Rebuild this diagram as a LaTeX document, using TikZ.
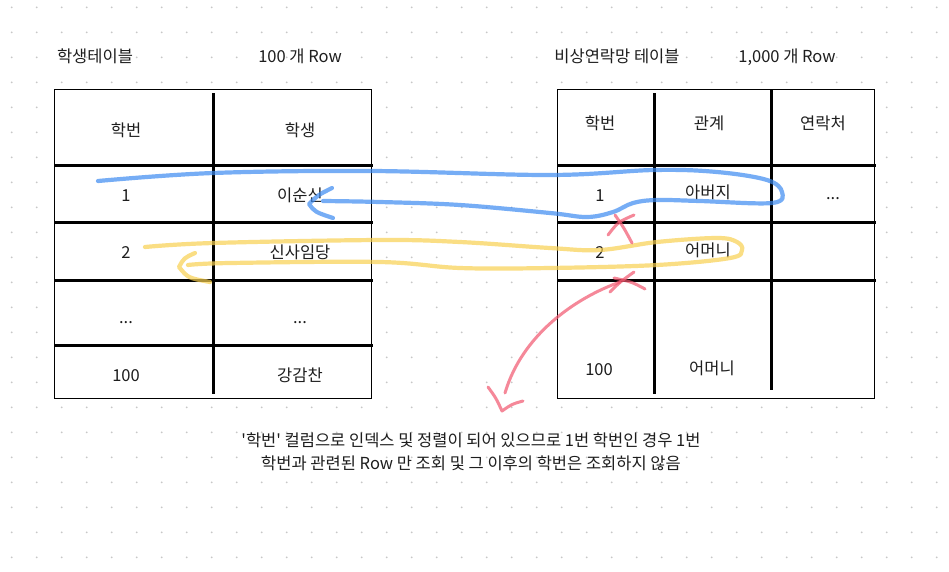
\documentclass[tikz,border=0pt]{standalone}
\usepackage{fontspec}
\setmainfont{Noto Sans CJK KR}
\usetikzlibrary{arrows.meta,positioning}
\definecolor{penblue}{HTML}{3D8BF2}
\definecolor{penyellow}{HTML}{F9D050}
\definecolor{penred}{HTML}{F2566E}
\definecolor{ink}{HTML}{1E1E1E}

\begin{document}
\begin{tikzpicture}[x=1pt,y=-1pt,
    txt/.style={font=\fontsize{16.5}{19}\selectfont,text=ink,inner sep=0pt,anchor=base},
    frame/.style={draw=black,line width=1.1pt},
    sepline/.style={draw=black,line width=3pt},
    pen/.style={line width=4.2pt,line cap=round,line join=round,opacity=0.7},
    bluepen/.style={pen,draw=penblue},
    yellowpen/.style={pen,draw=penyellow},
    redpen/.style={pen,draw=penred,line width=3pt}]
    \useasboundingbox[fill=white] (0,0) rectangle (949,571);
    % dot grid
    \foreach \i in {0,...,37}
      \foreach \j in {0,...,22}
        \fill[black!22] (11.7+25*\i,7.3+25*\j) circle (1pt);

    % titles
    \node[txt] (stuTitle) at (95,62.3) {학생테이블};
    \node[txt] (stuRows) at (300,62.3) {100 개 Row};
    \node[txt] (emgTitle) at (617,62.3) {비상연락망 테이블};
    \node[txt] (emgRows) at (787,62.3) {1,000 개 Row};

    % student table
    \draw[frame,fill=white] (54.5,89.5) rectangle (371.5,398.5);
    \foreach \y in {165,222.5,280,345}
      \draw[sepline] (54.5,\y) -- (372.5,\y);
    \draw[sepline] (213.5,93) -- (213.5,394);
    \node[txt] (sNoH) at (126,136.3) {학번};
    \node[txt] (sNameH) at (300,136.3) {학생};
    \node[txt] (sNo1) at (126,201.3) {1};
    \node[txt] (sName1) at (300,201.3) {이순신};
    \node[txt] (sNo2) at (126,258.3) {2};
    \node[txt] (sName2) at (300,258.3) {신사임당};
    \node[txt] (sNoX) at (126,323) {...};
    \node[txt] (sNameX) at (300,323) {...};
    \node[txt] (sNo100) at (126,381.3) {100};
    \node[txt] (sName100) at (300,381.3) {강감찬};

    % contact table
    \draw[frame,fill=white] (557.5,89.5) rectangle (874.5,398.5);
    \foreach \y in {165,222,280}
      \draw[sepline] (557.5,\y) -- (876,\y);
    \draw[sepline] (654.5,93) -- (654.5,394);
    \draw[sepline] (771,89.5) -- (771,390);
    \node[txt] (cNoH) at (600,129.3) {학번};
    \node[txt] (cRelH) at (709,129.3) {관계};
    \node[txt] (cTelH) at (823,129.3) {연락처};
    \node[txt] (cNo1) at (600,201.3) {1};
    \node[txt] (cRel1) at (708,198.3) {아버지};
    \node[txt] (cTel1) at (833,199) {...};
    \node[txt] (cNo2) at (600,258.3) {2};
    \node[txt] (cRel2) at (708,256.3) {어머니};
    \node[txt] (cNo100) at (599,375.3) {100};
    \node[txt] (cRel100) at (712,374.3) {어머니};

    % highlighter strokes
    \draw[bluepen] plot[smooth,tension=0.6] coordinates {(98,181) (213,173) (372,171)
      (550,175) (654,170) (717,172) (767,180) (782,192) (772,203) (700,201) (657,200)
      (633,203) (613,212) (587,217) (550,213) (460,205) (380,202) (323,201)};
    \draw[bluepen] (332,188) .. controls (318,195) .. (309,204) .. controls (315,212) .. (333,218);
    \draw[yellowpen] plot[smooth,tension=0.6] coordinates {(145,247) (213,243) (380,240)
      (460,242) (550,248) (600,250) (657,242) (717,238) (737,242) (742,250) (730,258)
      (657,265) (550,268) (460,268) (380,262) (230,263) (188,265)};
    \draw[yellowpen] (195,253) .. controls (184,258) .. (179,267) .. controls (188,278) .. (210,282);
    \draw[redpen] (615,215) .. controls (624,228) .. (632,243);
    \draw[redpen] (608,235) .. controls (618,222) .. (634,215);
    \draw[redpen] (610,292) .. controls (620,282) .. (634,272);
    \draw[redpen] (614,278) .. controls (632,282) .. (645,289);
    \draw[redpen] (620,282) .. controls (575,298) and (522,335) .. (505,393);
    \draw[redpen] (488,387) .. controls (496,398) .. (502,411) .. controls (512,404) .. (523,401);

    % note
    \node[txt] (note1) at (471,446.3) {\textquotesingle 학번\textquotesingle{} 컬럼으로 인덱스 및 정렬이 되어 있으므로 1번 학번인 경우 1번};
    \node[txt] (note2) at (471,469.3) {학번과 관련된 Row 만 조회 및 그 이후의 학번은 조회하지 않음};
\end{tikzpicture}
\end{document}
